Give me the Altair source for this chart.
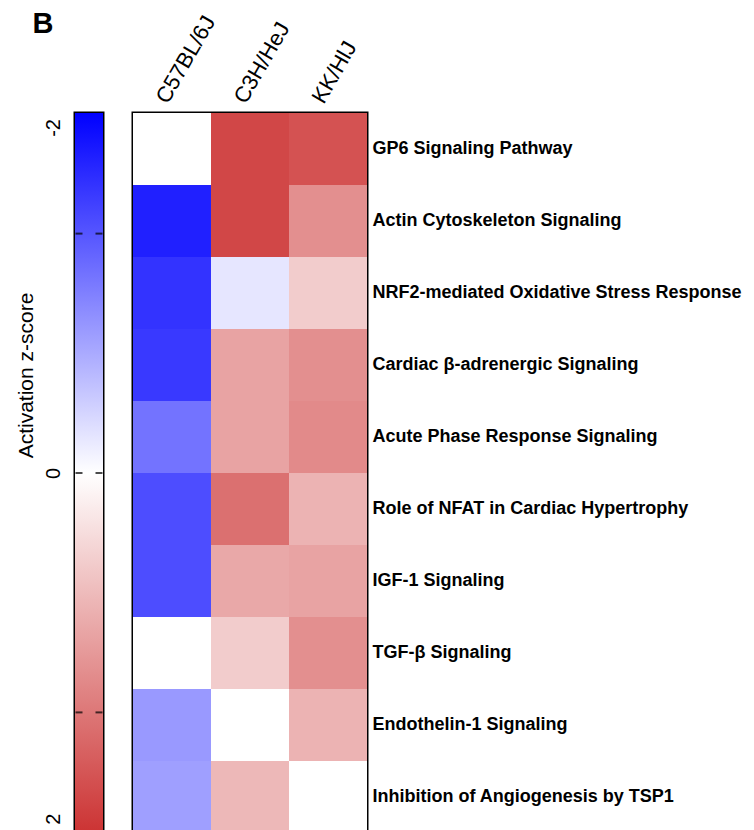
import altair as alt
import pandas as pd

strains = ["C57BL/6J", "C3H/HeJ", "KK/HlJ"]
pathways = [
    "GP6 Signaling Pathway",
    "Actin Cytoskeleton Signaling",
    "NRF2-mediated Oxidative Stress Response",
    "Cardiac β-adrenergic Signaling",
    "Acute Phase Response Signaling",
    "Role of NFAT in Cardiac Hypertrophy",
    "IGF-1 Signaling",
    "TGF-β Signaling",
    "Endothelin-1 Signaling",
    "Inhibition of Angiogenesis by TSP1",
]
z_c57 = [0.0, -1.75, -1.6, -1.55, -1.1, -1.4, -1.4, 0.0, -0.8, -0.75]
z_c3h = [1.8, 1.8, -0.2, 0.9, 0.9, 1.4, 0.85, 0.5, 0.0, 0.7]
z_kk = [1.7, 1.1, 0.5, 1.1, 1.15, 0.75, 0.9, 1.1, 0.75, 0.0]

z_domain = [-2, 0, 2]
z_colors = ["#0000FF", "#FFFFFF", "#CC3333"]
legend_label_pos = [-1.92, 0, 1.92]
legend_label_txt = ["-2", "0", "2"]
legend_tick_pos = [-1.33, 0, 1.33]

FONT = "Liberation Sans"
BAR_W = 28

rows = []
for p, a, b, c in zip(pathways, z_c57, z_c3h, z_kk):
    for s, v in zip(strains, (a, b, c)):
        rows.append({"pathway": p, "strain": s, "z": v})
df = pd.DataFrame(rows)

border = alt.ViewBackground(stroke="black", strokeWidth=3)

heat = alt.Chart(df).mark_rect(strokeWidth=0).encode(
    x=alt.X("strain:N", sort=strains, title=None,
            axis=alt.Axis(orient="top", labelAngle=-60, labelAlign="left",
                          labelBaseline="bottom", labelFontSize=22, labelFont=FONT,
                          labelColor="black", ticks=False, domain=False,
                          labelPadding=6)),
    y=alt.Y("pathway:N", sort=pathways, title=None,
            axis=alt.Axis(orient="right", labelFontSize=18, labelFontWeight="bold",
                          labelFont=FONT, labelColor="black", ticks=False,
                          domain=False, labelPadding=5, labelLimit=600)),
    color=alt.Color("z:Q", scale=alt.Scale(domain=z_domain, range=z_colors,
                                           interpolate="rgb"), legend=None),
).properties(width=234, height=720, view=border)

# colour bar
stops = [{"color": c, "offset": (v - z_domain[0]) / (z_domain[-1] - z_domain[0])}
         for v, c in zip(z_domain, z_colors)]
ybar = alt.Scale(domain=[z_domain[0], z_domain[-1]], reverse=True, nice=False, zero=False)
label_expr = " : ".join(
    [f"datum.value < {(legend_label_pos[0] + legend_label_pos[1]) / 2} ? '{legend_label_txt[0]}'",
     f"datum.value > {(legend_label_pos[1] + legend_label_pos[2]) / 2} ? '{legend_label_txt[2]}'",
     f"'{legend_label_txt[1]}'"])
bar_axis = alt.Axis(orient="left", values=legend_label_pos, labelExpr=label_expr,
                    labelAngle=-90, labelAlign="center", labelBaseline="bottom",
                    labelFontSize=20, labelFont=FONT, labelColor="black",
                    labelPadding=12, ticks=False, domain=False, grid=False,
                    title="Activation z-score", titleFont=FONT, titleFontSize=21,
                    titleFontWeight="normal", titleColor="black", titleAngle=-90,
                    titleAlign="center", titleBaseline="alphabetic",
                    titleX=-43, titleY=262)

bar = alt.Chart(pd.DataFrame({"lo": [z_domain[0]], "hi": [z_domain[-1]]})).mark_rect(
    fill={"gradient": "linear", "x1": 0, "x2": 0, "y1": 0, "y2": 1, "stops": stops}
).encode(
    x=alt.value(0), x2=alt.value(BAR_W),
    y=alt.Y("lo:Q", scale=ybar, axis=bar_axis),
    y2="hi:Q",
)
tick_df = pd.DataFrame({"v": legend_tick_pos})
tl = alt.Chart(tick_df).mark_tick(color="black", thickness=2, size=7, orient="horizontal").encode(
    y=alt.Y("v:Q", scale=ybar, axis=bar_axis), x=alt.value(4))
tr = alt.Chart(tick_df).mark_tick(color="black", thickness=2, size=7, orient="horizontal").encode(
    y=alt.Y("v:Q", scale=ybar, axis=bar_axis), x=alt.value(BAR_W - 4))

cbar = alt.layer(bar, tl, tr).properties(
    width=BAR_W, height=720, view=border,
    title=alt.TitleParams("B", fontSize=29, fontWeight="bold", font=FONT, color="black",
                          anchor="start", frame="group", baseline="alphabetic",
                          offset=51, dx=-42.5),
)

chart = alt.hconcat(cbar, heat, spacing=30, bounds="flush").properties(
    padding={"left": 5, "top": 0, "right": 0, "bottom": 0}
).configure(font=FONT).configure_view(stroke="black", strokeWidth=3)

chart.save("out.html", embed_options={"renderer": "svg", "actions": False})
